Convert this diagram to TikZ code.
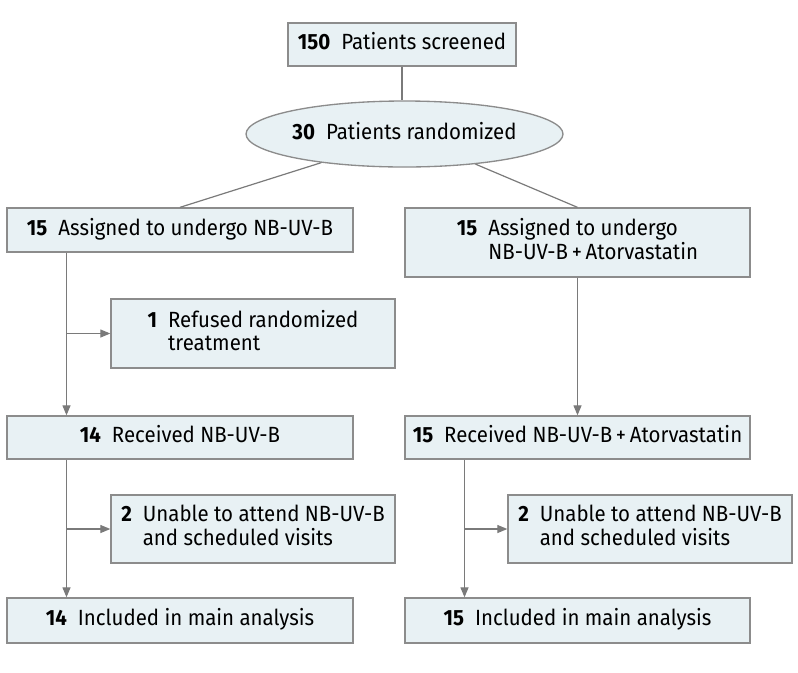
\documentclass[tikz,border=0pt]{standalone}
\usepackage{fontspec}
\setmainfont{Fira Sans}[FakeStretch=0.93]
\usetikzlibrary{arrows.meta,shapes.geometric}
\definecolor{boxfill}{HTML}{E8F1F4}
\definecolor{boxdraw}{HTML}{8C8C8C}
\definecolor{linec}{HTML}{7A7A7A}
\newcommand{\cnt}[2]{\textbf{#1}\hspace{0.5em}\begin{tabular}[t]{@{}l@{}}#2\end{tabular}}
\tikzset{
  bx/.style 2 args={draw=boxdraw, fill=boxfill, line width=1pt, rectangle,
    minimum width=#1*0.75pt, minimum height=#2*0.75pt, inner sep=0pt,
    font=\fontsize{16.5}{17.25}\selectfont},
  el/.style 2 args={draw=boxdraw, fill=boxfill, line width=1pt, ellipse,
    minimum width=#1*0.75pt, minimum height=#2*0.75pt, inner sep=0pt,
    font=\fontsize{16.5}{17.25}\selectfont},
  conn/.style={draw=linec, line width=0.9pt},
  arr/.style={conn, -{Triangle[length=7.5pt,width=6pt]}, color=linec}
}
\begin{document}
\begin{tikzpicture}[x=0.75pt,y=-0.75pt]
\useasboundingbox (0,0) rectangle (798,672);
\node[bx={228}{43}] (scr) at (402,44.5) {\cnt{150}{Patients screened}};
\node[el={273}{66}] (rnd) at (404.5,134) {\cnt{30}{Patients randomized}};
\node[bx={346}{44}] (a1) at (180,230) {\cnt{15}{Assigned to undergo NB-UV-B}};
\node[bx={345}{69}] (a2) at (577.5,242.5) {\cnt{15}{Assigned to undergo\\NB-UV-B\,+\,Atorvastatin}};
\node[bx={284}{69}] (ref) at (253,333.5) {\cnt{1}{Refused randomized\\treatment}};
\node[bx={346}{43}] (r1) at (180,437.5) {\cnt{14}{Received NB-UV-B}};
\node[bx={345}{43}] (r2) at (577.5,437.5) {\cnt{15}{Received NB-UV-B\,+\,Atorvastatin}};
\node[bx={284}{68}] (u1) at (253,529) {\cnt{2}{Unable to attend NB-UV-B\\and scheduled visits}};
\node[bx={284}{68}] (u2) at (650,529) {\cnt{2}{Unable to attend NB-UV-B\\and scheduled visits}};
\node[bx={346}{45}] (i1) at (180,620.5) {\cnt{14}{Included in main analysis}};
\node[bx={345}{45}] (i2) at (577.5,620.5) {\cnt{15}{Included in main analysis}};
\coordinate (t1) at (66.5,0);
\coordinate (t2) at (464.5,0);
\draw[conn] (scr.south) -- (scr.south |- rnd.north);
\draw[conn] (rnd.199) -- (a1.north);
\draw[conn] (rnd.337) -- (a2.north);
\draw[arr] (a1.south -| t1) -- (r1.north -| t1);
\draw[arr] (t1 |- ref.west) -- (ref.west);
\draw[arr] (a2.south) -- (r2.north);
\draw[arr] (r1.south -| t1) -- (i1.north -| t1);
\draw[arr] (t1 |- u1.west) -- (u1.west);
\draw[arr] (r2.south -| t2) -- (i2.north -| t2);
\draw[arr] (t2 |- u2.west) -- (u2.west);
\end{tikzpicture}
\end{document}
